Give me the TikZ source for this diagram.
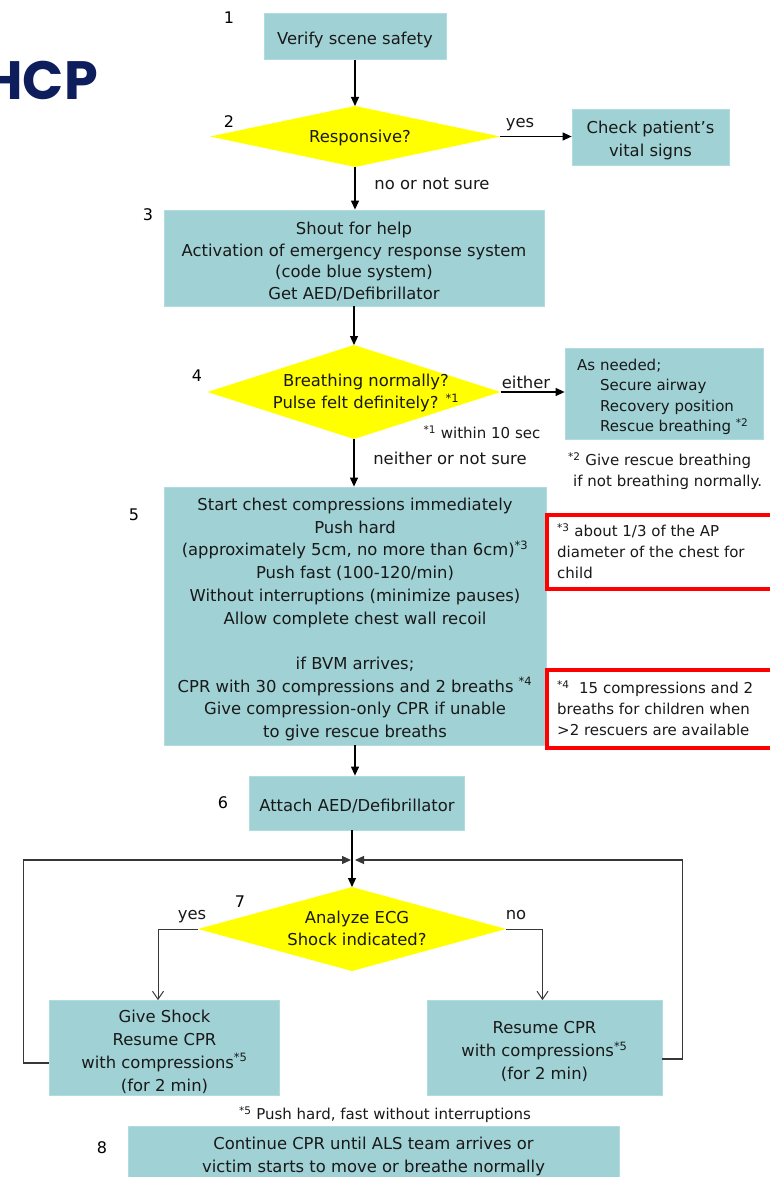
\documentclass[tikz,border=0pt]{standalone}
\usepackage{fontspec}
\setmainfont{DejaVu Sans}
\newfontfamily\titlefont{Poppins}
\usetikzlibrary{shapes.geometric,arrows.meta}
\definecolor{boxfill}{RGB}{160,209,213}
\definecolor{boxedge}{RGB}{176,220,224}
\definecolor{ink}{RGB}{25,25,25}
\definecolor{navy}{RGB}{14,30,92}
\definecolor{loopgray}{RGB}{55,55,55}
\definecolor{notered}{RGB}{255,0,0}
\definecolor{dyellow}{RGB}{255,255,0}
\newcommand\tsp{\rule{0pt}{19.5pt}}
\tikzset{
  box/.style={rectangle, fill=boxfill, draw=boxedge, line width=0.8pt, inner sep=0pt, align=center, text=ink, font=\fontsize{16.4}{22.5}\selectfont},
  dia/.style={diamond, fill=dyellow, draw=none, inner sep=0pt, outer sep=0pt},
  txt/.style={inner sep=0pt, text=ink, font=\fontsize{16.4}{22}\selectfont},
  note/.style={inner sep=0pt, text=ink, align=left, font=\fontsize{15}{21}\selectfont},
  num/.style={inner sep=0pt, text=black, font=\fontsize{16}{20}\selectfont},
  arr/.style={draw=black, line width=1.2pt, -{Triangle[length=9pt,width=8pt]}},
  looparr/.style={draw=loopgray, line width=1.2pt, -{Triangle[length=9pt,width=8pt]}},
  openarr/.style={draw=loopgray, line width=1pt, -{Straight Barb[length=8pt,width=11pt]}},
  redbox/.style={rectangle, draw=notered, line width=4pt, fill=white, inner sep=0pt}
}
\begin{document}
\begin{tikzpicture}[x=1pt,y=-1pt]
\useasboundingbox (0,0) rectangle (770,1177);
\fill[white] (0,0) rectangle (770,1177);

% title
\node[anchor=base east, inner sep=0pt, text=navy, font=\titlefont\bfseries\fontsize{54}{60}\selectfont] (title) at (98,99.5) {HCP};

% step 1-2
\node[num] (n1) at (229,18) {1};
\node[box, minimum width=182, minimum height=46] (b1) at (355,36.5) {\tsp Verify scene safety};
\node[num] (n2) at (229,122) {2};
\node[dia, minimum width=290, minimum height=61] (d2) at (355,136.5) {};
\node[txt] (t2) at (360,138) {Responsive?};
\node[box, minimum width=157, minimum height=56] (chk) at (650.5,137) {\tsp Check patient’s\\vital signs};
\node[txt] (lyes) at (520,125) {yes};
\node[txt] (lno) at (432,184) {no or not sure};

% step 3
\node[num] (n3) at (148,215) {3};
\node[box, minimum width=380, minimum height=96, font=\fontsize{16.4}{21.5}\selectfont] (b3) at (354,258)
  {\tsp Shout for help\\Activation of emergency response system\\(code blue system)\\Get AED/Defibrillator};

% step 4
\node[num] (n4) at (197,376) {4};
\node[dia, minimum width=293, minimum height=94] (d4) at (354,392) {};
\node[txt, align=center] (t4) at (366,393) {Breathing normally?\\Pulse felt definitely? \textsuperscript{*1}};
\node[box, minimum width=198, minimum height=91] (need) at (664,393.5) {};
\node[note, anchor=west, font=\fontsize{15}{20.5}\selectfont] (needt) at (577,397)
  {As needed;\\\hspace*{23pt}Secure airway\\\hspace*{23pt}Recovery position\\\hspace*{23pt}Rescue breathing \textsuperscript{*2}};
\node[txt] (leither) at (526,382) {either};
\node[note] (note1) at (482,432) {\textsuperscript{*1} within 10 sec};
\node[txt] (lneither) at (450,458) {neither or not sure};
\node[note, anchor=west] (note2) at (568,471.5) {\textsuperscript{*2} Give rescue breathing\\\hspace*{5pt}if not breathing normally.};

% step 5
\node[num] (n5) at (134,515) {5};
\node[box, minimum width=382, minimum height=258, font=\fontsize{16.4}{22.7}\selectfont] (b5) at (355,616)
  {\tsp Start chest compressions immediately\\Push hard\\(approximately 5cm, no more than 6cm)\textsuperscript{*3}\\Push fast (100-120/min)\\Without interruptions (minimize pauses)\\Allow complete chest wall recoil\\[22.7pt]if BVM arrives;\\CPR with 30 compressions and 2 breaths \textsuperscript{*4}\\Give compression-only CPR if unable\\to give rescue breaths};
\node[redbox, minimum width=231, minimum height=74, anchor=north west] (r3) at (545,513) {};
\node[note, anchor=west] (r3t) at (557,551) {\textsuperscript{*3} about 1/3 of the AP\\diameter of the chest for\\child};
\node[redbox, minimum width=231, minimum height=78, anchor=north west] (r4) at (545,668) {};
\node[note, anchor=west] (r4t) at (557,708.5) {\textsuperscript{*4}\ \ 15 compressions and 2\\breaths for children when\\>2 rescuers are available};

% step 6
\node[num] (n6) at (223,803) {6};
\node[box, minimum width=215, minimum height=54] (b6) at (357,803) {\tsp Attach AED/Defibrillator};

% step 7
\node[num] (n7) at (240,902) {7};
\node[dia, minimum width=308, minimum height=84] (d7) at (352,929) {};
\node[txt, align=center] (t7) at (357,928) {Analyze ECG\\Shock indicated?};
\node[txt] (lyes7) at (192,917) {yes};
\node[txt] (lno7) at (516,915) {no};
\node[box, minimum width=230, minimum height=95, font=\fontsize{16.4}{23}\selectfont] (lb) at (164.5,1048)
  {\tsp Give Shock\\Resume CPR\\with compressions\textsuperscript{*5}\\(for 2 min)};
\node[box, minimum width=235, minimum height=95, font=\fontsize{16.4}{23}\selectfont] (rb) at (544.5,1048)
  {\tsp Resume CPR\\with compressions\textsuperscript{*5}\\(for 2 min)};
\node[note] (note5) at (385,1115) {\textsuperscript{*5} Push hard, fast without interruptions};

% step 8
\node[num] (n8) at (102,1148) {8};
\node[box, minimum width=491, minimum height=54, font=\fontsize{16.4}{23}\selectfont] (b8) at (373.5,1153)
  {\tsp Continue CPR until ALS team arrives or\\victim starts to move or breathe normally};

% join points
\coordinate (ljoin) at (351,860);
\coordinate (rjoin) at (355,860);

% connectors
\draw[arr] (b1.south) -- (d2.north);
\draw[arr] (d2.east) -- (d2.east -| chk.west);
\draw[arr] (d2.south) -- (d2.south |- b3.north);
\draw[arr] (b3.south) -- (d4.north);
\draw[arr] (d4.east) -- (d4.east -| need.west);
\draw[arr] (d4.south) -- (d4.south |- b5.north);
\draw[arr] (b5.south) -- (b5.south |- b6.north);
\draw[arr] (d7.north |- b6.south) -- (d7.north);
\draw[looparr] ([yshift=-15pt]lb.west) -- ++(-26,0) |- (ljoin);
\draw[looparr] ([yshift=-11pt]rb.east) -- ++(20,0) |- (rjoin);
\draw[openarr] (d7.west) -| ([xshift=-6.5pt]lb.north);
\draw[openarr] (d7.east) -| ([xshift=-2pt]rb.north);
\end{tikzpicture}
\end{document}
